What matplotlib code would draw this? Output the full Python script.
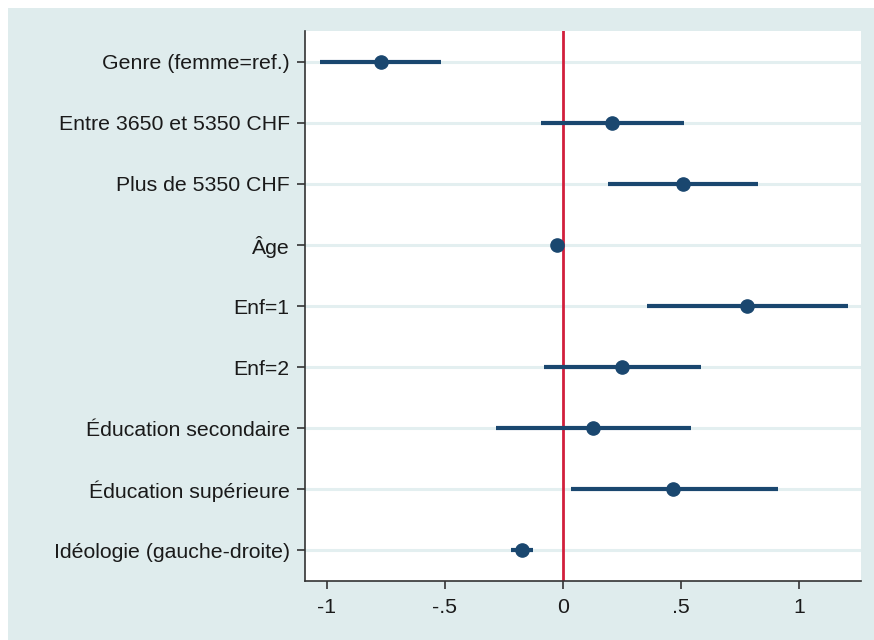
import matplotlib
matplotlib.use("Agg")
import matplotlib.pyplot as plt
from matplotlib.patches import Rectangle

labels = ["Genre (femme=ref.)", "Entre 3650 et 5350 CHF", "Plus de 5350 CHF", "Âge",
          "Enf=1", "Enf=2", "Éducation secondaire", "Éducation supérieure",
          "Idéologie (gauche-droite)"]
coef = [-0.770, 0.206, 0.507, -0.025, 0.778, 0.250, 0.127, 0.468, -0.175]
ci_low = [-1.028, -0.094, 0.192, -0.030, 0.357, -0.081, -0.282, 0.034, -0.221]
ci_high = [-0.516, 0.513, 0.828, -0.020, 1.206, 0.583, 0.543, 0.912, -0.125]
xticks = [-1, -0.5, 0, 0.5, 1]
xticklabels = ["-1", "-.5", "0", ".5", "1"]

plt.rcParams['font.family'] = ['Liberation Sans', 'DejaVu Sans']

W, H = 874, 640
fig = plt.figure(figsize=(W / 100, H / 100), dpi=100, facecolor="white")
bg = "#dfeced"
fig.patches.append(Rectangle((8 / W, 0), 1 - 8 / W, 1 - 8 / H, transform=fig.transFigure,
                             facecolor=bg, edgecolor="none", zorder=-10))

ax = fig.add_axes([305 / W, (H - 581) / H, (861 - 305) / W, (581 - 31) / H])
ax.set_facecolor("white")

n = len(labels)
ypos = list(range(n, 0, -1))
navy = "#1a476f"
grid_c = "#e3eff0"

for y in ypos:
    ax.axhline(y, color=grid_c, lw=2.2, zorder=1)
ax.axvline(0, color="#d21f3c", lw=2.0, zorder=2)
ax.hlines(ypos, ci_low, ci_high, color=navy, lw=3.0, zorder=3)
ax.plot(coef, ypos, "o", color=navy, ms=9.5, zorder=4, mec=navy)

ax.set_xlim(-1.093, 1.263)
ax.set_ylim(0.5, n + 0.5)
ax.set_yticks(ypos)
ax.set_yticklabels(labels, fontsize=15.3, color="#1a1a1a")
ax.set_xticks(xticks)
ax.set_xticklabels(xticklabels, fontsize=15.3, color="#1a1a1a")

for s in ["top", "right"]:
    ax.spines[s].set_visible(False)
for s in ["left", "bottom"]:
    ax.spines[s].set_color("#333333")
    ax.spines[s].set_linewidth(1.2)
ax.tick_params(axis="both", direction="out", length=6, width=1.2, color="#333333")
ax.tick_params(axis="y", pad=5)
ax.tick_params(axis="x", pad=6)

fig.savefig("out.png", dpi=100, facecolor=fig.get_facecolor())
